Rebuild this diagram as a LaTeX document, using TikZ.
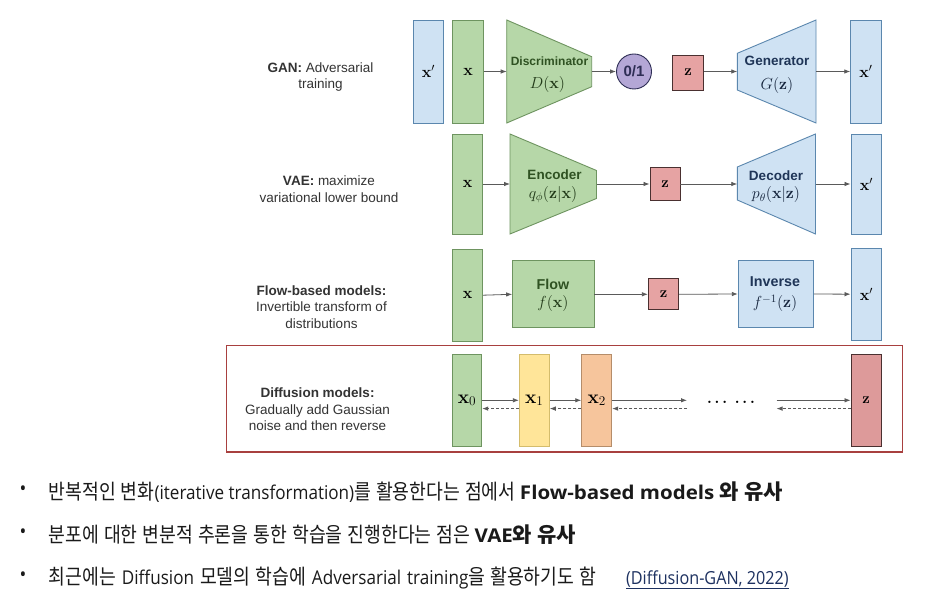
\RequirePackage{fix-cm}
\documentclass[tikz,border=0pt]{standalone}
\usepackage[no-math]{fontspec}
\setmainfont{Liberation Sans}
\newfontfamily\latf[FakeStretch=0.9, BoldFeatures={FakeStretch=1.08}]{Open Sans}
\newfontfamily\krf[FakeStretch=0.87, BoldFeatures={FakeStretch=1.0}]{Noto Sans CJK KR}
\newcommand\hkr[1]{{\krf\fontsize{21}{22}\selectfont\spaceskip=5pt\relax #1}}
\usetikzlibrary{arrows.meta}
\definecolor{gfill}{HTML}{B6D7A8}
\definecolor{gdraw}{HTML}{6E9460}
\definecolor{bfill}{HTML}{CFE2F3}
\definecolor{bdraw}{HTML}{5B87AE}
\definecolor{rfill}{HTML}{E6A3A3}
\definecolor{rdraw}{HTML}{4A3030}
\definecolor{pfill}{HTML}{B4A7D6}
\definecolor{pdraw}{HTML}{2E2E55}
\definecolor{yfill}{HTML}{FFE599}
\definecolor{ydraw}{HTML}{D4BC6C}
\definecolor{ofill}{HTML}{F6C59C}
\definecolor{odraw}{HTML}{B58D6A}
\definecolor{dzfill}{HTML}{DD9A9A}
\definecolor{framec}{HTML}{A8403F}
\definecolor{gtext}{HTML}{2F5222}
\definecolor{btext}{HTML}{1F3557}
\definecolor{arr}{HTML}{5A5A5A}
\definecolor{lbl}{HTML}{333333}
\definecolor{linkc}{HTML}{1D3160}
\definecolor{krtext}{HTML}{1A1A1A}
\begin{document}
\begin{tikzpicture}[x=1pt,y=-1pt,
  box/.style={draw, line width=0.9pt, inner sep=0pt, font=\fontsize{16}{16}\selectfont},
  gbox/.style={box, fill=gfill, draw=gdraw},
  bbox/.style={box, fill=bfill, draw=bdraw},
  rbox/.style={box, fill=rfill, draw=rdraw, font=\fontsize{15}{15}\selectfont},
  ybox/.style={box, fill=yfill, draw=ydraw},
  obox/.style={box, fill=ofill, draw=odraw},
  trap/.style={line width=0.9pt},
  gtitle/.style={inner sep=0pt, text=gtext, font=\fontsize{13.5}{13.5}\selectfont\bfseries},
  btitle/.style={inner sep=0pt, text=btext, font=\fontsize{13.5}{13.5}\selectfont\bfseries},
  gmath/.style={inner sep=0pt, text=gtext!70!black, font=\fontsize{16}{16}\selectfont},
  bmath/.style={inner sep=0pt, text=btext!70!black, font=\fontsize{16}{16}\selectfont},
  lab/.style={inner sep=0pt, align=center, text=lbl, font=\fontsize{13.5}{16.3}\selectfont},
  conn/.style={draw=arr, line width=0.8pt, -{Latex[length=6pt,width=4.5pt]}},
  back/.style={conn, dash pattern=on 3pt off 2pt},
  krline/.style={inner sep=0pt, anchor=west, text=krtext, font=\latf\fontsize{19}{22}\selectfont},
  bul/.style={inner sep=0pt, text=krtext, font=\latf\fontsize{20}{20}\selectfont}
]
\fill[white] (0,0) rectangle (951,609);
\useasboundingbox (0,0) rectangle (951,609);

% ---------- left labels ----------
\node[lab] (lgan) at (320.5,76.7) {\textbf{GAN:} Adversarial\\training};
\node[lab] (lvae) at (329,189.2) {\textbf{VAE:} maximize\\variational lower bound};
\node[lab] (lflow) at (321.5,307) {\textbf{Flow-based models:}\\Invertible transform of\\distributions};
\node[lab] (ldif) at (317.5,409.2) {\textbf{Diffusion models:}\\Gradually add Gaussian\\noise and then reverse};

% ---------- GAN ----------
\node[bbox, minimum width=30.6pt, minimum height=103pt] (gxp) at (428.5,71.5) {$\mathbf{x}'$};
\node[gbox, minimum width=30.6pt, minimum height=103pt] (gx) at (468,71.5) {$\mathbf{x}$};
\filldraw[trap, fill=gfill, draw=gdraw] (506.7,20)--(591.7,56.7)--(591.7,86.7)--(506.7,123)--cycle;
\coordinate (dL) at (506.7,71.5);
\coordinate (dR) at (591.7,71.5);
\node[gtitle, font=\fontsize{12}{12}\selectfont\bfseries] (dt) at (549.5,61) {Discriminator};
\node[gmath] (dm) at (547.5,85) {$D(\mathbf{x})$};
\node[circle, draw=pdraw, fill=pfill, line width=0.9pt, minimum size=35pt, inner sep=0pt,
      font=\fontsize{15}{15}\selectfont\bfseries, text=pdraw] (c01) at (634,71.5) {0/1};
\node[rbox, minimum width=30.6pt, minimum height=35pt] (gz) at (688,72.5) {$\mathbf{z}$};
\filldraw[trap, fill=bfill, draw=bdraw] (737.3,53.3)--(816,20)--(816,123)--(737.3,90)--cycle;
\coordinate (gL) at (737.3,71.5);
\coordinate (gR) at (816,71.5);
\node[btitle] (gt) at (777,61) {Generator};
\node[bmath] (gm) at (777,86) {$G(\mathbf{z})$};
\node[bbox, minimum width=30.6pt, minimum height=103pt] (gxp2) at (866,71.5) {$\mathbf{x}'$};
\draw[conn] (gx.east) -- (dL);
\draw[conn] (dR) -- (c01.west);
\draw[conn] (gz.east |- gL) -- (gL);
\draw[conn] (gR) -- (gxp2.west);

% ---------- VAE ----------
\node[gbox, minimum width=30pt, minimum height=100pt] (vx) at (467.7,184) {$\mathbf{x}$};
\filldraw[trap, fill=gfill, draw=gdraw] (510,134)--(596.5,170.5)--(596.5,198.5)--(510,234)--cycle;
\coordinate (eL) at (510,184);
\coordinate (eR) at (596.5,184);
\node[gtitle] (et) at (554.5,174.7) {Encoder};
\node[gmath] (em) at (553,194.7) {$q_\phi(\mathbf{z}|\mathbf{x})$};
\node[rbox, minimum width=30pt, minimum height=33.5pt] (vz) at (665,184) {$\mathbf{z}$};
\filldraw[trap, fill=bfill, draw=bdraw] (737.3,167)--(815.5,134)--(815.5,234)--(737.3,200)--cycle;
\coordinate (cL) at (737.3,184);
\coordinate (cR) at (815.5,184);
\node[btitle] (ct) at (776,175.7) {Decoder};
\node[bmath] (cm) at (776,194.7) {$p_\theta(\mathbf{x}|\mathbf{z})$};
\node[bbox, minimum width=30.6pt, minimum height=100pt] (vxp) at (866.3,184) {$\mathbf{x}'$};
\draw[conn] (vx.east) -- (eL);
\draw[conn] (eR) -- (vz.west);
\draw[conn] (vz.east) -- (cL);
\draw[conn] (cR) -- (vxp.west);

% ---------- Flow ----------
\node[gbox, minimum width=30pt, minimum height=91.7pt] (fx) at (467.7,295.2) {$\mathbf{x}$};
\node[gbox, minimum width=81.3pt, minimum height=66.7pt] (fb) at (553.3,294.3) {};
\node[gtitle, font=\fontsize{14.3}{14.3}\selectfont\bfseries] (ft) at (553,284.3) {Flow};
\node[gmath] (fm) at (553,303.3) {$f(\mathbf{x})$};
\node[rbox, minimum width=30.4pt, minimum height=31.3pt] (fz) at (663.5,294.3) {$\mathbf{z}$};
\node[bbox, minimum width=75pt, minimum height=67.4pt] (ib) at (775.8,294) {};
\node[btitle, font=\fontsize{14.3}{14.3}\selectfont\bfseries] (it) at (775,281.7) {Inverse};
\node[bmath] (im) at (775,303.3) {$f^{-1}(\mathbf{z})$};
\node[bbox, minimum width=30.7pt, minimum height=91.7pt] (fxp) at (866.3,294.2) {$\mathbf{x}'$};
\draw[conn] (fx.east) -- (fb.west);
\draw[conn] (fb.east) -- (fz.west);
\draw[conn] (fz.east) -- (ib.west);
\draw[conn] (ib.east) -- (fxp.west);

% ---------- Diffusion ----------
\draw[framec, line width=1.1pt] (226.5,345.7) rectangle (902.3,452);
\node[gbox, minimum width=29.5pt, minimum height=92.5pt, font=\fontsize{19}{19}\selectfont] (d0) at (467,400.3) {$\mathbf{x}_0$};
\node[ybox, minimum width=30pt, minimum height=92.5pt, font=\fontsize{19}{19}\selectfont] (d1) at (534.3,400.3) {$\mathbf{x}_1$};
\node[obox, minimum width=30pt, minimum height=92.5pt, font=\fontsize{19}{19}\selectfont] (d2) at (596.7,400.3) {$\mathbf{x}_2$};
\node[box, fill=dzfill, draw=rdraw, minimum width=30pt, minimum height=92pt, font=\fontsize{15}{15}\selectfont] (dz) at (866,400.3) {$\mathbf{z}$};
\node[inner sep=0pt, font=\fontsize{15}{15}\selectfont\boldmath] (dots) at (731,402) {$\ldots\;\ldots$};
\coordinate (m1) at (687,400.3);
\coordinate (m1d) at (687,408.6);
\coordinate (m2) at (776.5,400.3);
\coordinate (m2d) at (776.5,408.6);
\draw[conn] (d0.east) -- (d1.west);
\draw[back] ([yshift=-8.3pt]d1.west) -- ([yshift=-8.3pt]d0.east);
\draw[conn] (d1.east) -- (d2.west);
\draw[back] ([yshift=-8.3pt]d2.west) -- ([yshift=-8.3pt]d1.east);
\draw[conn] (d2.east) -- (m1);
\draw[back] (m1d) -- ([yshift=-8.3pt]d2.east);
\draw[conn] (m2) -- (dz.west);
\draw[back] ([yshift=-8.3pt]dz.west) -- (m2d);

% ---------- bullets ----------
\node[bul] (b1) at (23,491) {•};
\node[bul] (b2) at (23,534) {•};
\node[bul] (b3) at (23,577) {•};
\node[krline] (t1) at (48.5,492) {\hkr{반복적인 변화}(iterative transformation)\hkr{를 활용한다는 점에서} \textbf{Flow-based models \hkr{와 유사}}};
\node[krline] (t2) at (48.5,535) {\hkr{분포에 대한 변분적 추론을 통한 학습을 진행한다는 점은} \textbf{VAE\hkr{와 유사}}};
\node[krline] (t3) at (48.5,578) {\spaceskip=6pt\relax\hkr{최근에는} Diffusion \hkr{모델의 학습에} Adversarial training\hkr{을 활용하기도 함}\hskip 30pt{\spaceskip=0pt\color{linkc}\fontsize{18}{18}\selectfont\underline{(Diffusion-GAN, 2022)}}};
\end{tikzpicture}
\end{document}
